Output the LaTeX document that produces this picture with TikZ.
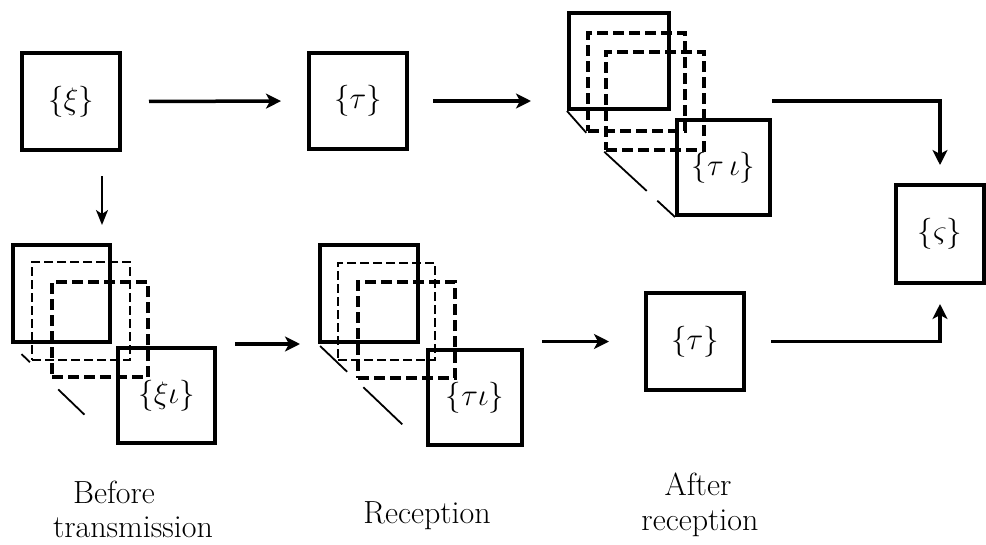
\RequirePackage{fix-cm}
\documentclass[tikz,border=0pt]{standalone}
\usetikzlibrary{arrows.meta,calc}
\begin{document}
\begin{tikzpicture}[x=1pt,y=-1pt,
  sq/.style={draw, line width=4pt, inner sep=0pt, font=\fontsize{31}{33}\selectfont},
  dsthick/.style={draw, line width=3.5pt, inner sep=0pt, dash pattern=on 11pt off 5pt},
  dsthin/.style={draw, line width=2pt, inner sep=0pt, dash pattern=on 9pt off 4pt},
  fold/.style={line width=1.8pt},
  arr/.style={line width=3.5pt, -{Stealth[length=15pt,width=15pt,inset=4pt]}},
  arrthin/.style={line width=2pt, -{Stealth[length=15pt,width=12pt,inset=4pt]}},
  lbl/.style={font=\fontsize{32}{34}\selectfont, inner sep=0pt, anchor=base}]
\useasboundingbox (0,0) rectangle (986,544);

% top row
\node[sq, minimum width=98pt, minimum height=97pt] (xi) at (71,101.5) {$\{\xi\}$};
\node[sq, minimum width=98pt, minimum height=96pt] (tau) at (358,101) {$\{\tau\}$};

% top stack
\node[sq, minimum width=100pt, minimum height=96pt] (topback) at (619,61) {};
\node[dsthick, minimum width=97pt, minimum height=98pt] (topdash1) at (636.5,82) {};
\node[dsthick, minimum width=98pt, minimum height=98pt] (topdash2) at (655,101) {};
\node[sq, minimum width=93pt, minimum height=95pt] (topfront) at (723.5,167.5) {$\{\tau\,\iota\}$};
\draw[fold] (topback.south west) -- (topdash1.south west);
\draw[fold] (topdash2.south west) -- ($(topdash2.south west)!0.6!(topfront.south west)$);
\draw[fold] ($(topdash2.south west)!0.75!(topfront.south west)$) -- (topfront.south west);

% result
\node[sq, minimum width=88pt, minimum height=98pt] (sig) at (940,234) {$\{\varsigma\}$};

% bottom-left stack
\node[sq, minimum width=97pt, minimum height=97pt] (blback) at (61.5,293.5) {};
\node[dsthin, minimum width=98pt, minimum height=98pt] (bldash1) at (81,311) {};
\node[dsthick, minimum width=96pt, minimum height=95pt] (bldash2) at (100,329.5) {};
\node[sq, minimum width=97pt, minimum height=95pt] (blfront) at (166.5,395.5) {$\{\xi\iota\}$};
\draw[fold] ($(blback.south west)!0.1!(blfront.south west)$) -- ($(blback.south west)!0.18!(blfront.south west)$);
\draw[fold] ($(blback.south west)!0.45!(blfront.south west)$) -- ($(blback.south west)!0.7!(blfront.south west)$);

% bottom-middle stack
\node[sq, minimum width=98pt, minimum height=97pt] (bmback) at (369,293.5) {};
\node[dsthin, minimum width=97pt, minimum height=97pt] (bmdash1) at (386.5,311.5) {};
\node[dsthick, minimum width=97pt, minimum height=96pt] (bmdash2) at (406.5,330) {};
\node[sq, minimum width=94pt, minimum height=95pt] (bmfront) at (475,397.5) {$\{\tau\iota\}$};
\draw[fold] ($(bmback.south west)!0.02!(bmfront.south west)$) -- ($(bmback.south west)!0.27!(bmfront.south west)$);
\draw[fold] ($(bmback.south west)!0.42!(bmfront.south west)$) -- ($(bmback.south west)!0.78!(bmfront.south west)$);

% bottom tau
\node[sq, minimum width=98pt, minimum height=97pt] (tau2) at (695,341.5) {$\{\tau\}$};

% connectors
\draw[arr, shorten <=27pt, shorten >=26pt] (xi.east) -- (tau.west);
\draw[arr, shorten <=24pt, shorten >=36pt] (tau.east) -- (topback.west |- tau.east);
\draw[arr, shorten >=18pt] (topfront.east |- tau.east) -| (sig.north);
\draw[arrthin, shorten <=24pt, shorten >=18pt] ([xshift=31pt]xi.south) -- ([xshift=31pt]xi.south |- blback.north);
\draw[arr, shorten <=18pt, shorten >=18pt] (blfront.east |- bmback.south west) -- (bmback.south west);
\draw[arr, shorten <=18pt, shorten >=35pt] (bmfront.east |- tau2.west) -- (tau2.west);
\draw[arr, shorten <=25pt, shorten >=19pt] (tau2.east) -| (sig.south);

% labels
\node[lbl] (l1a) at (114,503) {Before};
\node[lbl] (l1b) at (133,537) {transmission};
\node[lbl] (l2) at (427,523) {Reception};
\node[lbl] (l3a) at (698,495) {After};
\node[lbl] (l3b) at (700,530) {reception};
\end{tikzpicture}
\end{document}
